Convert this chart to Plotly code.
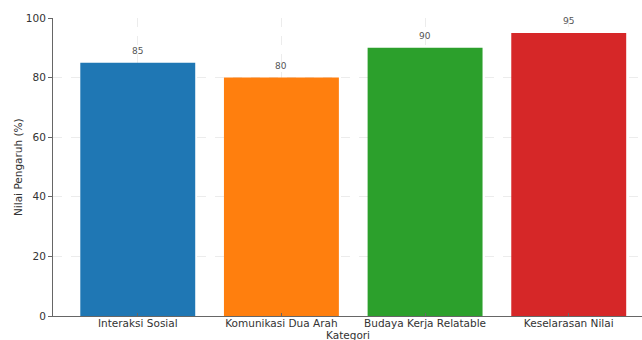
import plotly.graph_objects as go

categories = ["Interaksi Sosial", "Komunikasi Dua Arah", "Budaya Kerja Relatable", "Keselarasan Nilai"]
values = [85, 80, 90, 95]
colors = ["#1f77b4", "#ff7f0e", "#2ca02c", "#d62728"]
y_ticks = [0, 20, 40, 60, 80, 100]

font_family = "DejaVu Sans"
grid_color = "rgba(200,200,200,0.35)"

fig = go.Figure()
fig.add_trace(go.Bar(
    x=list(range(len(categories))),
    y=values,
    width=0.8,
    marker=dict(color=colors, line=dict(width=0)),
    hoverinfo="skip",
))

for i, v in enumerate(values):
    fig.add_annotation(x=i, y=v, text=str(v), showarrow=False,
                       yanchor="bottom", yshift=5,
                       font=dict(family=font_family, size=9, color="#555555"))

fig.add_annotation(xref="paper", yref="paper", x=0.5, y=0, yshift=-19,
                   text="Kategori", showarrow=False, yanchor="middle",
                   font=dict(family=font_family, size=10.5, color="#333333"))
fig.add_annotation(xref="paper", yref="paper", x=0, xshift=-35, y=0.5,
                   text="Nilai Pengaruh (%)", showarrow=False, textangle=-90,
                   xanchor="center", yanchor="middle",
                   font=dict(family=font_family, size=10.5, color="#333333"))

fig.update_layout(
    width=642, height=340,
    margin=dict(l=53, r=0, t=18, b=24, autoexpand=False),
    plot_bgcolor="white", paper_bgcolor="white",
    showlegend=False,
    font=dict(family=font_family, size=10.5, color="#333333"),
    xaxis=dict(
        range=[-0.59, 3.51],
        tickvals=list(range(len(categories))),
        ticktext=categories,
        showline=True, linecolor="#666666", linewidth=1,
        ticks="inside", ticklen=3, tickcolor="#666666",
        ticklabelstandoff=-3,
        showgrid=True, gridcolor=grid_color, griddash="dash", gridwidth=1,
        layer="above traces", zeroline=False, fixedrange=True,
    ),
    yaxis=dict(
        range=[0, 100],
        tickvals=y_ticks,
        showline=True, linecolor="#666666", linewidth=1,
        ticks="outside", ticklen=4, tickcolor="#666666",
        showgrid=True, gridcolor=grid_color, griddash="dash", gridwidth=1,
        layer="above traces", zeroline=False, fixedrange=True,
    ),
)

fig.write_html("out.html")
